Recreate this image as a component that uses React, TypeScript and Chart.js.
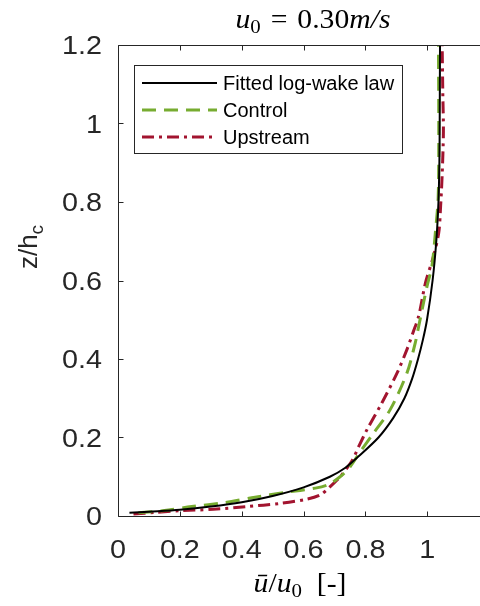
import React, { useEffect, useRef } from "react";
import { Chart, registerables } from "chart.js";

Chart.register(...registerables);

// ---- Data ----
const FIT_U = [0.037, 0.1, 0.2, 0.3, 0.4, 0.5, 0.6, 0.685, 0.735, 0.775, 0.842, 0.89, 0.926, 0.951, 0.97, 0.986, 0.999, 1.017, 1.029, 1.036, 1.039, 1.04, 1.041];
const FIT_Z = [0.008, 0.011, 0.016, 0.024, 0.035, 0.051, 0.073, 0.1, 0.123, 0.15, 0.2, 0.25, 0.3, 0.35, 0.4, 0.45, 0.5, 0.6, 0.7, 0.8, 0.9, 1.0, 1.2];

const CONTROL_U = [0.066, 0.15, 0.238, 0.346, 0.443, 0.54, 0.638, 0.68, 0.718, 0.75, 0.78, 0.826, 0.88, 0.934, 0.961, 0.972, 0.999, 1.015, 1.026, 1.035, 1.037, 1.036];
const CONTROL_Z = [0.008, 0.014, 0.024, 0.034, 0.048, 0.06, 0.071, 0.08, 0.1, 0.125, 0.16, 0.211, 0.271, 0.364, 0.441, 0.483, 0.585, 0.637, 0.722, 0.81, 0.95, 1.2];

const UPSTREAM_U = [0.05, 0.12, 0.201, 0.308, 0.416, 0.524, 0.611, 0.654, 0.686, 0.718, 0.756, 0.78, 0.805, 0.853, 0.902, 0.934, 0.955, 0.972, 0.994, 1.02, 1.037, 1.043, 1.048, 1.052, 1.05, 1.048];
const UPSTREAM_Z = [0.005, 0.009, 0.0135, 0.017, 0.024, 0.032, 0.043, 0.054, 0.075, 0.1, 0.14, 0.18, 0.22, 0.288, 0.364, 0.424, 0.47, 0.509, 0.594, 0.662, 0.722, 0.79, 0.87, 0.98, 1.08, 1.2];

const SERIES_NAMES = ["Fitted log-wake law", "Control", "Upstream"];
const X_TICKS = [0, 0.2, 0.4, 0.6, 0.8, 1];
const Y_TICKS = [0, 0.2, 0.4, 0.6, 0.8, 1, 1.2];
const X_MIN = 0;
const X_MAX = 1.18;
const Y_MIN = 0;
const Y_MAX = 1.2;

// ---- Styles ----
const BLACK = "#000000";
const GREEN = "#77AC30";
const RED = "#A2142F";
const AXIS = "#262626";
const SANS = '"Liberation Sans", Arial, Helvetica, sans-serif';
const SERIF = '"Liberation Serif", "Times New Roman", serif';
const GREEN_DASH = [14, 8];
const RED_DASH = [12, 5, 3, 5];
const TICK_FONT = `25px ${SANS}`;
const TICK_SX = 1.15;
const SERIF_SX = 1.1;

const toPts = (u: number[], z: number[]) => u.map((v, i) => ({ x: v, y: z[i] }));

type Run = { t: string; f: string; dy?: number };

function runsWidth(ctx: CanvasRenderingContext2D, runs: Run[]) {
  let w = 0;
  for (const r of runs) {
    ctx.font = r.f;
    w += ctx.measureText(r.t).width;
  }
  return w;
}

// draws runs with a horizontal stretch, centred on cx
function drawRunsCentered(ctx: CanvasRenderingContext2D, runs: Run[], cx: number, y: number, sx: number) {
  const w = runsWidth(ctx, runs);
  ctx.save();
  ctx.translate(cx, y);
  ctx.scale(sx, 1);
  let x = -w / 2;
  for (const r of runs) {
    ctx.font = r.f;
    ctx.fillText(r.t, x, r.dy || 0);
    x += ctx.measureText(r.t).width;
  }
  ctx.restore();
}

function drawStretched(ctx: CanvasRenderingContext2D, text: string, x: number, y: number, sx: number, align: "center" | "right") {
  ctx.save();
  ctx.translate(x, y);
  ctx.scale(sx, 1);
  ctx.textAlign = align;
  ctx.fillText(text, 0, 0);
  ctx.restore();
}

const overlay = {
  id: "overlay",
  afterDraw(chart: any) {
    const ctx: CanvasRenderingContext2D = chart.ctx;
    const { left, right, top, bottom } = chart.chartArea;
    const xs = chart.scales.x;
    const ys = chart.scales.y;
    ctx.save();

    // axes box (left, bottom, top)
    ctx.strokeStyle = AXIS;
    ctx.lineWidth = 1;
    ctx.setLineDash([]);
    ctx.beginPath();
    const L = Math.round(left) + 0.5;
    const B = Math.round(bottom) + 0.5;
    const T = Math.round(top) + 0.5;
    ctx.moveTo(L, T);
    ctx.lineTo(L, B);
    ctx.lineTo(right + 2, B);
    ctx.moveTo(L, T);
    ctx.lineTo(right + 2, T);
    const tl = 5;
    for (const v of X_TICKS) {
      const px = Math.round(xs.getPixelForValue(v)) + 0.5;
      ctx.moveTo(px, B);
      ctx.lineTo(px, B - tl);
      ctx.moveTo(px, T);
      ctx.lineTo(px, T + tl);
    }
    for (const v of Y_TICKS) {
      const py = Math.round(ys.getPixelForValue(v)) + 0.5;
      ctx.moveTo(L, py);
      ctx.lineTo(L + tl, py);
    }
    ctx.stroke();

    // tick labels
    ctx.fillStyle = AXIS;
    ctx.font = TICK_FONT;
    ctx.textBaseline = "alphabetic";
    for (const v of X_TICKS) {
      drawStretched(ctx, String(v), xs.getPixelForValue(v), bottom + 42, TICK_SX, "center");
    }
    for (const v of Y_TICKS) {
      drawStretched(ctx, String(v), left - 16, ys.getPixelForValue(v) + 9, TICK_SX, "right");
    }

    // legend
    const lx = 134.5, ly = 65.5, lw = 268, lh = 88;
    ctx.fillStyle = "#ffffff";
    ctx.fillRect(lx, ly, lw, lh);
    ctx.strokeStyle = AXIS;
    ctx.lineWidth = 1;
    ctx.strokeRect(lx, ly, lw, lh);
    const rows = [83, 110, 137];
    const styles = [
      { c: BLACK, w: 2, d: [] as number[] },
      { c: GREEN, w: 3, d: GREEN_DASH },
      { c: RED, w: 3, d: RED_DASH },
    ];
    for (let i = 0; i < 3; i++) {
      ctx.beginPath();
      ctx.strokeStyle = styles[i].c;
      ctx.lineWidth = styles[i].w;
      ctx.setLineDash(styles[i].d);
      ctx.moveTo(142, rows[i]);
      ctx.lineTo(217, rows[i]);
      ctx.stroke();
    }
    ctx.setLineDash([]);
    ctx.fillStyle = "#000000";
    ctx.font = `20px ${SANS}`;
    ctx.textBaseline = "middle";
    ctx.textAlign = "left";
    for (let i = 0; i < 3; i++) ctx.fillText(SERIES_NAMES[i], 223, rows[i] + 1);

    // title
    ctx.textBaseline = "alphabetic";
    ctx.textAlign = "left";
    ctx.fillStyle = "#000000";
    const titleRuns: Run[] = [
      { t: "u", f: `italic 27px ${SERIF}` },
      { t: "0", f: `19px ${SERIF}`, dy: 5 },
      { t: "\u2004=\u20040.30", f: `27px ${SERIF}` },
      { t: "m/s", f: `italic 27px ${SERIF}` },
    ];
    drawRunsCentered(ctx, titleRuns, 313, 28, SERIF_SX);

    // x label
    const xRuns: Run[] = [
      { t: "ū", f: `italic 27px ${SERIF}` },
      { t: "/", f: `27px ${SERIF}` },
      { t: "u", f: `italic 27px ${SERIF}` },
      { t: "0", f: `19px ${SERIF}`, dy: 5 },
      { t: "\u2002[-]", f: `27px ${SERIF}` },
    ];
    drawRunsCentered(ctx, xRuns, 300, 592, SERIF_SX);

    // y label
    ctx.save();
    ctx.translate(37, 247);
    ctx.rotate(-Math.PI / 2);
    ctx.fillStyle = AXIS;
    const yRuns: Run[] = [
      { t: "z/h", f: `26px ${SANS}` },
      { t: "c", f: `19px ${SANS}`, dy: 6 },
    ];
    drawRunsCentered(ctx, yRuns, 0, 0, 1);
    ctx.restore();

    ctx.restore();
  },
};

export default function App() {
  const ref = useRef<HTMLCanvasElement | null>(null);
  useEffect(() => {
    if (!ref.current) return;
    const chart = new Chart(ref.current, {
      type: "line",
      data: {
        datasets: [
          {
            label: SERIES_NAMES[0],
            data: toPts(FIT_U, FIT_Z),
            borderColor: BLACK,
            borderWidth: 2,
            pointRadius: 0,
            tension: 0.3,
            fill: false,
          },
          {
            label: SERIES_NAMES[1],
            data: toPts(CONTROL_U, CONTROL_Z),
            borderColor: GREEN,
            borderWidth: 3,
            borderDash: GREEN_DASH,
            pointRadius: 0,
            tension: 0.3,
            fill: false,
          },
          {
            label: SERIES_NAMES[2],
            data: toPts(UPSTREAM_U, UPSTREAM_Z),
            borderColor: RED,
            borderWidth: 3,
            borderDash: RED_DASH,
            pointRadius: 0,
            tension: 0.3,
            fill: false,
          },
        ],
      },
      options: {
        animation: false,
        responsive: false,
        devicePixelRatio: 1,
        layout: { padding: { top: 45, left: 0, right: 0, bottom: 0 } },
        plugins: {
          legend: { display: false },
          tooltip: { enabled: false },
          title: { display: false },
        },
        scales: {
          x: {
            type: "linear",
            min: X_MIN,
            max: X_MAX,
            grid: { display: false, drawTicks: false },
            border: { display: false },
            afterBuildTicks: (s: any) => {
              s.ticks = X_TICKS.map((v) => ({ value: v }));
            },
            afterFit: (s: any) => {
              s.height = 90;
            },
            ticks: { display: false },
          },
          y: {
            type: "linear",
            min: Y_MIN,
            max: Y_MAX,
            grid: { display: false, drawTicks: false },
            border: { display: false },
            afterBuildTicks: (s: any) => {
              s.ticks = Y_TICKS.map((v) => ({ value: v }));
            },
            afterFit: (s: any) => {
              s.width = 118;
            },
            ticks: { display: false },
          },
        },
      },
      plugins: [overlay],
    });
    return () => chart.destroy();
  }, []);

  return (
    <div
      style={{
        position: "fixed",
        left: 0,
        top: 0,
        width: 480,
        height: 606,
        overflow: "hidden",
        background: "#ffffff",
      }}
    >
      <canvas ref={ref} width={483} height={606} style={{ display: "block", width: 483, height: 606 }} />
    </div>
  );
}
